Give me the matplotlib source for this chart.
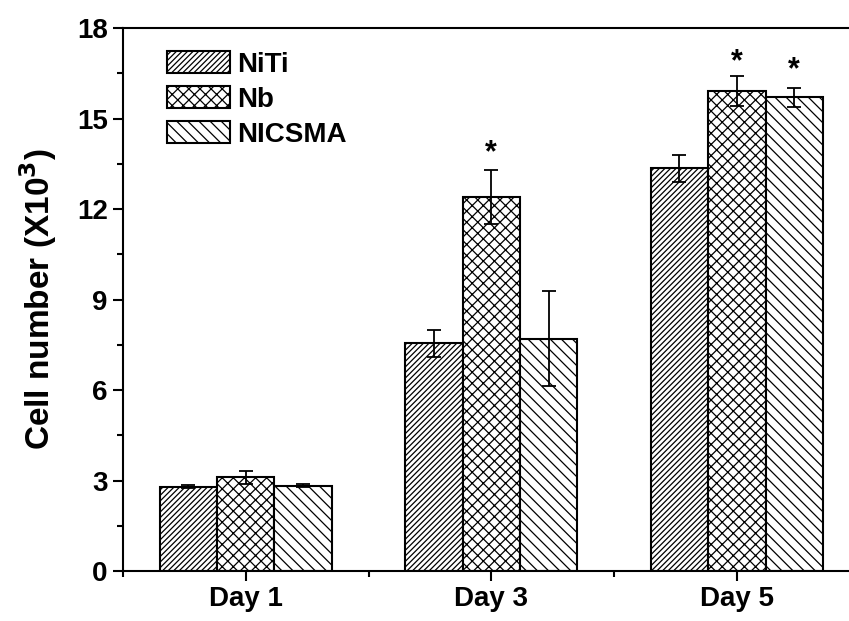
import numpy as np
import matplotlib.pyplot as plt
from matplotlib.ticker import MultipleLocator, FixedLocator

plt.rcParams['font.family'] = ['Liberation Sans', 'DejaVu Sans']
plt.rcParams['font.weight'] = 'bold'
plt.rcParams['mathtext.default'] = 'bf'
plt.rcParams['hatch.color'] = '#808080'
plt.rcParams['hatch.linewidth'] = 0.9

# Data
days = ["Day 1", "Day 3", "Day 5"]
groups = ["NiTi", "Nb", "NICSMA"]
niti = [2.8, 7.55, 13.35]
niti_err = [0.05, 0.45, 0.45]
nb = [3.1, 12.4, 15.9]
nb_err = [0.23, 0.9, 0.5]
nicsma = [2.83, 7.7, 15.7]
nicsma_err = [0.04, 1.58, 0.32]
# significance stars: (day index, group index, height)
stars_day = [1, 2, 2]
stars_group = [1, 1, 2]
stars_y = [13.85, 16.85, 16.6]

fig = plt.figure(figsize=(8.49, 6.21), dpi=100)
ax = fig.add_axes([0.1449, 0.0805, 0.8675, 0.8744])

x = np.arange(len(days))
w = 0.234
series = [(niti, niti_err, '//////'), (nb, nb_err, 'xxx'), (nicsma, nicsma_err, '\\\\\\')]
for i, (vals, errs, hatch) in enumerate(series):
    ax.bar(x + (i - 1) * w, vals, w, yerr=errs, color='white', edgecolor='black',
           linewidth=1.5, hatch=hatch, label=groups[i],
           error_kw=dict(ecolor='black', elinewidth=1.3, capsize=5, capthick=1.3))

for d, g, sy in zip(stars_day, stars_group, stars_y):
    ax.text(x[d] + (g - 1) * w, sy, '*', ha='center', va='center', fontsize=22, fontweight='bold')

ax.set_xlim(-0.5, 2.5)
ax.set_ylim(0, 18)
ax.set_xticks(x)
ax.set_xticklabels(days, fontsize=20, fontweight='bold')
ax.xaxis.set_minor_locator(FixedLocator([-0.5, 0.5, 1.5]))
ax.yaxis.set_major_locator(MultipleLocator(3))
ax.yaxis.set_minor_locator(MultipleLocator(1.5))
ax.tick_params(axis='both', which='major', direction='out', length=7.5, width=1.5, labelsize=20)
ax.tick_params(axis='both', which='minor', direction='out', length=4, width=1.5)
for lab in ax.get_yticklabels():
    lab.set_fontweight('bold')
for s in ax.spines.values():
    s.set_linewidth(1.5)

ax.set_ylabel('Cell number (X10$^{3}$)', fontsize=24, fontweight='bold', labelpad=13)

ax.legend(loc='upper left', bbox_to_anchor=(0.060, 0.957), frameon=False, fontsize=20,
          borderpad=0, borderaxespad=0, handlelength=2.25, handleheight=0.83,
          handletextpad=0.25, labelspacing=0.3)

fig.savefig('out.png', dpi=100)
